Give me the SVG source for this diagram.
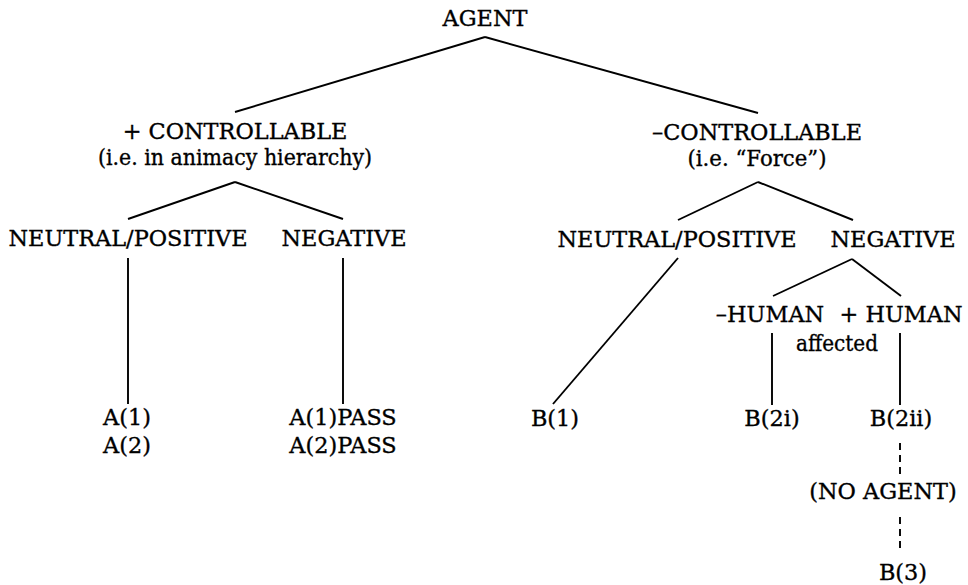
<svg xmlns="http://www.w3.org/2000/svg" width="968" height="585" viewBox="0 0 968 585">
<style>
text{font-family:"DejaVu Serif","Liberation Serif",serif;font-size:22.4px;fill:#000;stroke:#000;stroke-width:0.35;text-anchor:middle}
.c line{stroke:#000;stroke-width:1.9;fill:none}
.c .d{stroke-dasharray:7 5}
</style>
<rect width="968" height="585" fill="#fff"/>
<g class="c" id="connectors">
<line x1="485" y1="37" x2="235" y2="112"/>
<line x1="485" y1="37" x2="758" y2="113"/>
<line x1="235" y1="182" x2="128" y2="219"/>
<line x1="235" y1="182" x2="343" y2="219"/>
<line x1="758" y1="182" x2="678" y2="220"/>
<line x1="758" y1="182" x2="853" y2="220"/>
<line x1="128" y1="258" x2="128" y2="404"/>
<line x1="343" y1="258" x2="343" y2="404"/>
<line x1="678" y1="258" x2="553" y2="404"/>
<line x1="852" y1="259" x2="773" y2="296"/>
<line x1="852" y1="259" x2="901" y2="296"/>
<line x1="772" y1="333" x2="772" y2="405"/>
<line x1="900" y1="333" x2="900" y2="405"/>
<line class="d" x1="900" y1="443" x2="900" y2="476"/>
<line class="d" x1="900" y1="517" x2="900" y2="553"/>
</g>
<g id="agent"><text x="485" y="26">AGENT</text></g>
<g id="pos-controllable"><text x="235" y="139">+ CONTROLLABLE</text><text x="235" y="165" textLength="274" lengthAdjust="spacingAndGlyphs">(i.e. in animacy hierarchy)</text></g>
<g id="neg-controllable"><text x="757" y="140">–CONTROLLABLE</text><text x="757" y="166" textLength="139" lengthAdjust="spacingAndGlyphs">(i.e. “Force”)</text></g>
<g id="np-left"><text x="128" y="246">NEUTRAL/POSITIVE</text></g>
<g id="neg-left"><text x="344" y="246">NEGATIVE</text></g>
<g id="np-right"><text x="677" y="247">NEUTRAL/POSITIVE</text></g>
<g id="neg-right"><text x="893" y="247">NEGATIVE</text></g>
<g id="minus-human"><text x="770" y="322">–HUMAN</text></g>
<g id="plus-human"><text x="901" y="322">+ HUMAN</text></g>
<g id="affected"><text x="837" y="351" textLength="82" lengthAdjust="spacingAndGlyphs">affected</text></g>
<g id="a-active"><text x="127" y="425">A(1)</text><text x="127" y="453">A(2)</text></g>
<g id="a-pass"><text x="343" y="425">A(1)PASS</text><text x="343" y="453">A(2)PASS</text></g>
<g id="b1"><text x="555" y="426">B(1)</text></g>
<g id="b2i"><text x="772" y="426">B(2i)</text></g>
<g id="b2ii"><text x="901" y="426">B(2ii)</text></g>
<g id="no-agent"><text x="883" y="499">(NO AGENT)</text></g>
<g id="b3"><text x="903" y="580">B(3)</text></g>
</svg>
